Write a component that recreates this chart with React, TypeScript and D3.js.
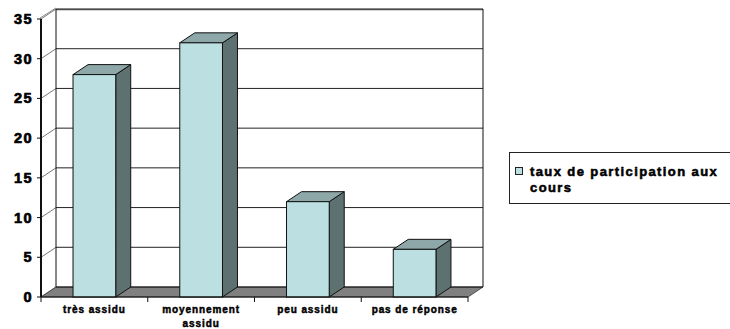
import React from "react";
import * as d3 from "d3";

const categories: string[][] = [["très assidu"], ["moyennement", "assidu"], ["peu assidu"], ["pas de réponse"]];
const values: number[] = [28, 32, 12, 6];
const yTicks: number[] = [0, 5, 10, 15, 20, 25, 30, 35];
const seriesName = ["taux de participation aux", "cours"];

export default function App() {
  const W = 730, H = 329;
  const x0 = 41, x1 = 468, yBase = 297, yTop = 19;
  const dx = 15, dy = -10;
  const keys = categories.map((c) => c.join(" "));
  const x = d3.scaleBand<string>().domain(keys).range([x0, x1]).paddingInner(0.6).paddingOuter(0.3);
  const y = d3.scaleLinear().domain([0, 35]).range([yBase, yTop]);
  const step = x.step();
  const bw = x.bandwidth();
  const txt = (size: number, ls: number, sw: number): React.CSSProperties => ({
    fontFamily: "'Liberation Sans', Arial, sans-serif",
    fontWeight: 700,
    fontSize: size,
    letterSpacing: ls,
    fill: "#000",
    stroke: "#000",
    strokeWidth: sw,
  });

  const front = "#BCE0E2", top = "#8EA8A9", side = "#5E7171";

  return (
    <svg width={W} height={H} style={{ position: "absolute", left: 0, top: 0, background: "#fff" }}>
      <rect x={x0 + dx} y={yTop + dy} width={x1 - x0} height={yBase - yTop} fill="#fff" />
      {yTicks.filter((t) => t > 0 && t < 35).map((t) => (
        <line key={"g" + t} x1={x0 + dx} x2={x1 + dx} y1={y(t) + dy} y2={y(t) + dy} stroke="#222" strokeWidth={1} />
      ))}
      {yTicks.map((t) => (
        <line key={"d" + t} x1={x0} y1={y(t)} x2={x0 + dx} y2={y(t) + dy} stroke="#555" strokeWidth={0.8} />
      ))}
      <line x1={x0 + dx} x2={x1 + dx} y1={yTop + dy - 0.5} y2={yTop + dy - 0.5} stroke="#888" strokeWidth={1} />
      <line x1={x0 + dx} x2={x1 + dx} y1={yTop + dy + 0.7} y2={yTop + dy + 0.7} stroke="#222" strokeWidth={1} />
      <line x1={x0 - 1} y1={yTop - 1} x2={x0 + dx} y2={yTop + dy - 1} stroke="#888" strokeWidth={1} />
      <line x1={x0 + dx} x2={x0 + dx} y1={yTop + dy} y2={yBase + dy} stroke="#111" strokeWidth={1} />
      <line x1={x1 + dx} x2={x1 + dx} y1={yTop + dy} y2={yBase + dy} stroke="#111" strokeWidth={1} />
      <path
        d={`M${x0},${yBase} L${x1},${yBase} L${x1 + dx},${yBase + dy} L${x0 + dx},${yBase + dy} Z`}
        fill="#808080"
        stroke="#333"
        strokeWidth={0.8}
      />
      <line x1={x0 + dx} x2={x1 + dx} y1={yBase + dy} y2={yBase + dy} stroke="#111" strokeWidth={1.2} />
      {values.map((v, i) => {
        const bx = x(keys[i])!;
        const by = y(v);
        return (
          <g key={"b" + i} stroke="#111" strokeWidth={1}>
            <path d={`M${bx + bw},${by} L${bx + bw + dx},${by + dy} L${bx + bw + dx},${yBase + dy} L${bx + bw},${yBase} Z`} fill={side} />
            <path d={`M${bx},${by} L${bx + dx},${by + dy} L${bx + bw + dx},${by + dy} L${bx + bw},${by} Z`} fill={top} />
            <rect x={bx} y={by} width={bw} height={yBase - by} fill={front} />
          </g>
        );
      })}
      <line x1={x0} x2={x0} y1={yTop} y2={yBase} stroke="#111" strokeWidth={2} />
      <line x1={x0} x2={x1} y1={yBase} y2={yBase} stroke="#111" strokeWidth={1.2} />
      {yTicks.map((t) => (
        <g key={"t" + t}>
          <line x1={x0 - 4} x2={x0} y1={y(t)} y2={y(t)} stroke="#111" strokeWidth={1} />
          <text x={33} y={y(t) + 5} textAnchor="end" style={txt(14.5, 1.4, 0.7)}>
            {t}
          </text>
        </g>
      ))}
      {d3.range(keys.length + 1).map((i) => (
        <line key={"xt" + i} x1={x0 + i * step} x2={x0 + i * step} y1={yBase} y2={yBase + 5} stroke="#111" strokeWidth={1} />
      ))}
      {categories.map((lines, i) => {
        const cx = x(keys[i])! + bw / 2;
        return (
          <text key={"xl" + i} x={cx} y={312.5} textAnchor="middle" style={txt(10, 0.9, 0.45)}>
            {lines.map((l, j) => (
              <tspan key={j} x={cx} dy={j === 0 ? 0 : 14}>
                {l}
              </tspan>
            ))}
          </text>
        );
      })}
      <rect x={509.5} y={152.5} width={230} height={51} fill="#fff" stroke="#222" strokeWidth={1} />
      <rect x={515.5} y={167.5} width={7} height={7} fill={front} stroke="#222" strokeWidth={1} />
      <text x={530} y={176} style={txt(13, 1.4, 0.55)}>
        <tspan x={530}>{seriesName[0]}</tspan>
        <tspan x={530} dy={16}>{seriesName[1]}</tspan>
      </text>
    </svg>
  );
}
